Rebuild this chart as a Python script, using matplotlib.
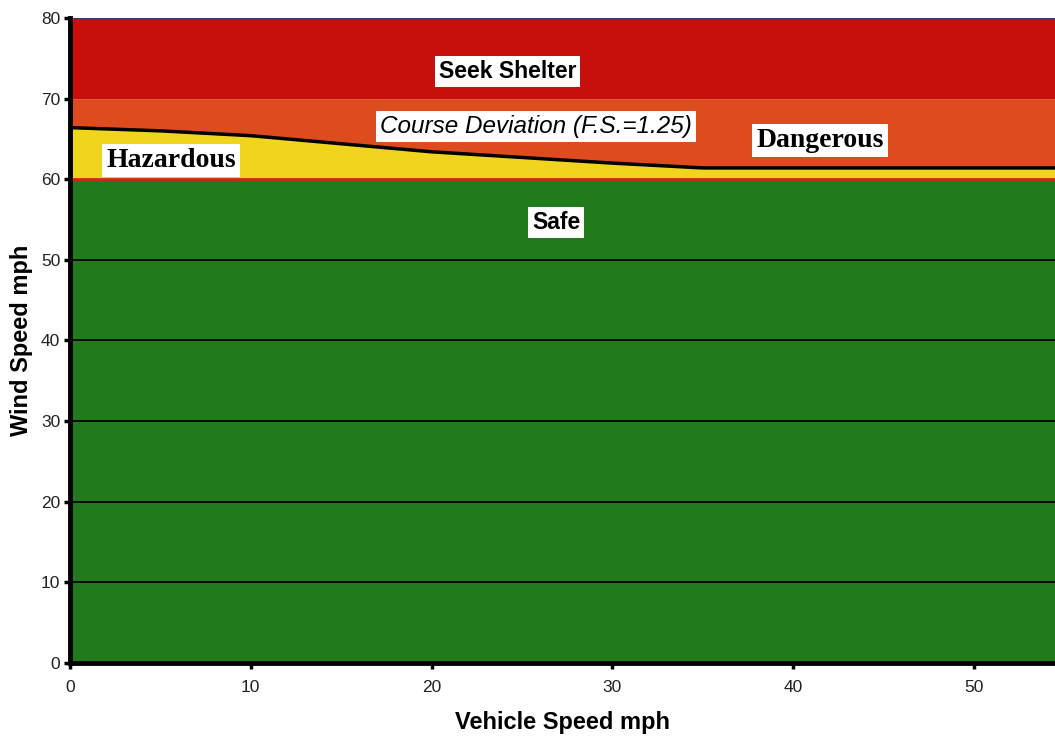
import matplotlib
matplotlib.use("Agg")
import matplotlib.pyplot as plt
import numpy as np

# Data
vehicle_speed = [0, 5, 10, 15, 20, 25, 30, 35, 40, 45, 50, 55]
course_deviation = [66.4, 66.0, 65.4, 64.4, 63.4, 62.7, 62.0, 61.4, 61.4, 61.4, 61.4, 61.4]
safe_limit = 60
shelter_limit = 70
y_max = 80
x_ticks = [0, 10, 20, 30, 40, 50]
y_ticks = [0, 10, 20, 30, 40, 50, 60, 70, 80]
grid_levels = [10, 20, 30, 40, 50]

labels = [
    ("Seek Shelter", 24.2, 73.4, "sans", "bold", "normal"),
    ("Course Deviation (F.S.=1.25)", 25.8, 66.5, "sans", "normal", "italic"),
    ("Dangerous", 41.5, 64.8, "serif", "bold", "normal"),
    ("Hazardous", 5.6, 62.3, "serif", "bold", "normal"),
    ("Safe", 26.9, 54.6, "sans", "bold", "normal"),
]

fig = plt.figure(figsize=(10.55, 7.36), dpi=100)
ax = fig.add_axes([0.0664, 0.0992, 0.9336, 0.8764])

x = np.array(vehicle_speed, dtype=float)
cd = np.array(course_deviation)

ax.fill_between(x, 0, safe_limit, color="#217a1c", lw=0, zorder=1)
ax.fill_between(x, safe_limit, cd, color="#f0d41e", lw=0, zorder=1)
ax.fill_between(x, cd, shelter_limit, color="#de4b1e", lw=0, zorder=1)
ax.fill_between(x, shelter_limit, y_max, color="#c70f0c", lw=0, zorder=1)

ax.plot(x, cd, color="black", lw=2.5, zorder=3)
ax.axhline(safe_limit, color="#d8221a", lw=2, zorder=3)
for g in grid_levels:
    ax.axhline(g, color="black", lw=1.3, zorder=2)
ax.axhline(y_max, color="#3a3a6a", lw=1, zorder=3)

ax.set_xlim(0, 54.5)
ax.set_ylim(0, y_max)
ax.set_xticks(x_ticks)
ax.set_yticks(y_ticks)

for s in ["top", "right"]:
    ax.spines[s].set_visible(False)
for s in ["left", "bottom"]:
    ax.spines[s].set_linewidth(3.5)
    ax.spines[s].set_color("black")
    ax.spines[s].set_zorder(4)

ax.tick_params(axis="both", direction="out", length=4, width=2.5, color="black",
               labelsize=12.5, labelcolor="#222222")
ax.tick_params(axis="x", pad=8)
ax.tick_params(axis="y", pad=3)
for t in ax.get_xticklabels() + ax.get_yticklabels():
    t.set_fontfamily("Liberation Sans")

ax.set_xlabel("Vehicle Speed mph", fontsize=17, fontweight="bold", family="Liberation Sans", labelpad=12)
ax.set_ylabel("Wind Speed mph", fontsize=17, fontweight="bold", family="Liberation Sans", labelpad=6)

for text, lx, ly, fam, fw, fs in labels:
    family = "Liberation Sans" if fam == "sans" else "Liberation Serif"
    if fam == "serif":
        size = 20
    elif fs == "italic":
        size = 17.5
    else:
        size = 16.5
    ax.text(lx, ly, text, ha="center", va="center", fontsize=size, fontweight=fw,
            fontstyle=fs, family=family, color="black", zorder=5,
            bbox=dict(facecolor="white", edgecolor="none", pad=3))

fig.savefig("out.png", dpi=100)
